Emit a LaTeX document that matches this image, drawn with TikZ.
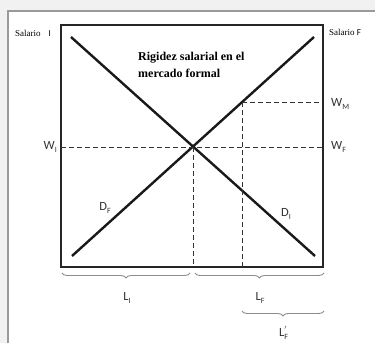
\documentclass[tikz,border=0pt]{standalone}
\usepackage{fontspec}
\setmainfont{Liberation Serif}
\newfontfamily\lblfont{Carlito}
\usetikzlibrary{decorations.pathreplacing}
\newcommand\sbx[1]{\raisebox{-0.5ex}{\fontsize{8}{8}\selectfont #1}}
\definecolor{lblgray}{HTML}{333333}
\definecolor{bggray}{HTML}{F1F1F1}
\definecolor{framegray}{HTML}{9A9A9A}
\definecolor{bracegray}{HTML}{8C8C8C}
\tikzset{
  axis/.style={draw=black!85, line width=1.6pt},
  curve/.style={draw=black!90, line width=2.4pt},
  guide/.style={draw=black!80, line width=0.8pt, dash pattern=on 5pt off 3pt},
  lbl/.style={font=\lblfont\fontsize{12.5}{14}\selectfont, text=lblgray, inner sep=0pt},
  smalltxt/.style={font=\fontsize{9}{10}\selectfont, inner sep=0pt},
  bracestyle/.style={draw=bracegray, line width=0.9pt, decorate,
     decoration={brace, mirror, amplitude=5pt}},
}
\begin{document}
\begin{tikzpicture}[x=1pt, y=-1pt]
\useasboundingbox (0,0) rectangle (375,343);
\fill[bggray] (0,0) rectangle (375,343);
\fill[white] (8,11) rectangle (375,343);
\draw[framegray, line width=1.5pt] (8,343) -- (8,11) -- (375,11);
% box
\coordinate (tl) at (61,25);
\coordinate (tr) at (323,25);
\coordinate (bl) at (61,267);
\coordinate (br) at (323,267);
\draw[axis] (tl) -- (tr) -- (br) -- (bl) -- cycle;
% curves
\coordinate (dia) at (71,37);
\coordinate (dib) at (315,256);
\coordinate (dfa) at (72,256);
\coordinate (dfb) at (314,37);
\draw[curve] (dia) -- (dib);
\draw[curve] (dfa) -- (dfb);
% guides
\coordinate (eq) at (193,147);
\coordinate (wil) at (61,147);
\coordinate (wfr) at (323,147);
\coordinate (eqb) at (193,267);
\coordinate (wm) at (242,102);
\coordinate (wmr) at (323,102);
\coordinate (wmb) at (242,267);
\draw[guide] (wil) -- (wfr);
\draw[guide] (eq) -- (eqb);
\draw[guide] (wm) -- (wmr);
\draw[guide] (wm) -- (wmb);
% labels
\node[smalltxt, anchor=west] (sali) at (15,33) {Salario\hspace{8pt}{\lblfont I}};
\node[smalltxt, anchor=west] (salf) at (329,32) {Salario {\lblfont F}};
\node[lbl, anchor=west] (wml) at (331,104) {W\sbx{M}};
\node[lbl, anchor=west] (wfl) at (331,147) {W\sbx{F}};
\node[lbl, anchor=east] (wil2) at (57,147) {W\sbx{I}};
\node[lbl] (dfl) at (105,208) {D\sbx{F}};
\node[lbl] (dil) at (286,214) {D\sbx{I}};
\node[font=\bfseries\fontsize{12}{17}\selectfont, align=left, anchor=north west, inner sep=0pt] (title) at (138,52) {Rigidez salarial en el\\mercado formal};
% braces
\coordinate (b1a) at (62,273);
\coordinate (b1b) at (190,273);
\coordinate (b2a) at (195,273);
\coordinate (b2b) at (324,273);
\coordinate (b3a) at (242,311);
\coordinate (b3b) at (324,311);
\draw[bracestyle] (b1a) -- (b1b);
\draw[bracestyle] (b2a) -- (b2b);
\draw[bracestyle] (b3a) -- (b3b);
\node[lbl] (li) at (127,298) {L\sbx{I}};
\node[lbl] (lf) at (260,298) {L\sbx{F}};
\node[lbl] (lfp) at (283,333) {L\rlap{\sbx{F}}\raisebox{0.8ex}{\fontsize{8}{8}\selectfont$'$}};
\end{tikzpicture}
\end{document}
